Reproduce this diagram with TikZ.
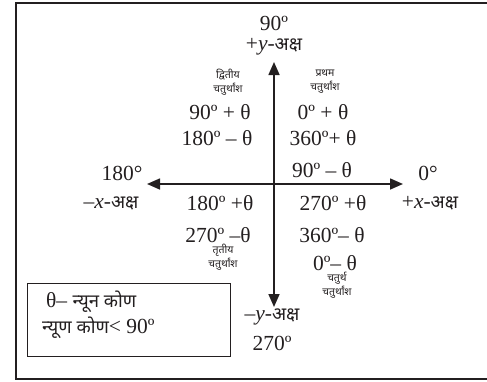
\documentclass[tikz,border=0pt]{standalone}
\usepackage{fontspec}
\setmainfont{Liberation Serif}
\newfontfamily\dev[Script=Devanagari]{Noto Sans}
\usetikzlibrary{arrows.meta}
\definecolor{ink}{HTML}{231F20}
\tikzset{
  lab/.style={inner sep=0pt, text=ink, font=\fontsize{21.5}{24}\selectfont},
  small/.style={inner sep=0pt, text=ink, align=center, font=\dev\bfseries\fontsize{10.5}{14}\selectfont},
  axis/.style={draw=ink, line width=1.6pt, {Triangle[length=13pt,width=11pt]}-{Triangle[length=13pt,width=11pt]}},
  frame/.style={draw=ink, line width=2.5pt},
  legendbox/.style={draw=ink, line width=0.9pt, inner sep=0pt}
}
\newcommand{\ax}[1]{{\dev\fontsize{18.5}{20}\selectfont #1}}
\begin{document}
\begin{tikzpicture}[x=1pt,y=-1pt]
\useasboundingbox (0,0) rectangle (487,381);
\draw[frame] (487,3) -- (16,3) -- (16,379) -- (487,379);
% axes
\coordinate (ytop) at (274,62);
\coordinate (ybot) at (274,307);
\coordinate (xl) at (147,184);
\coordinate (xr) at (403,184);
\draw[axis] (ytop) -- (ybot);
\draw[axis] (xl) -- (xr);
% axis labels
\node[lab] (n90) at (274,23) {90º};
\node[lab] (py) at (274,47) {+\textit{y}-\ax{अक्ष}};
\node[lab] (n180) at (122,173) {180°};
\node[lab] (mx) at (111,203) {–\textit{x}-\ax{अक्ष}};
\node[lab] (n0) at (428,173) {0°};
\node[lab] (px) at (430,203) {+\textit{x}-\ax{अक्ष}};
\node[lab] (my) at (272,317) {–\textit{y}-\ax{अक्ष}};
\node[lab] (n270) at (272,343) {270º};
% quadrant names
\node[small] (q2) at (228,82) {द्वितीय\\चतुर्थांश};
\node[small] (q1) at (325,82) {प्रथम\\चतुर्थांश};
\node[small] (q3) at (223,257) {तृतीय\\चतुर्थांश};
\node[small] (q4) at (337,285) {चतुर्थ\\चतुर्थांश};
% angles
\node[lab] (a1) at (220,112) {90º + θ};
\node[lab] (a2) at (323,112) {0º + θ};
\node[lab] (a3) at (217,138) {180º – θ};
\node[lab] (a4) at (323,138) {360º+ θ};
\node[lab] (a5) at (322,170) {90º – θ};
\node[lab] (a6) at (220,203) {180º +θ};
\node[lab] (a7) at (333,203) {270º +θ};
\node[lab] (a8) at (218,235) {270º –θ};
\node[lab] (a9) at (332,235) {360º– θ};
\node[lab] (a10) at (335,263) {0º– θ};
% legend
\node[legendbox, minimum width=203pt, minimum height=73pt] (legend) at (128.5,319.5) {};
\node[lab, anchor=west] (l1) at (46,302) {θ– \ax{न्यून कोण}};
\node[lab, anchor=west] (l2) at (42,328) {\ax{न्यूण कोण}< 90º};
\end{tikzpicture}
\end{document}
